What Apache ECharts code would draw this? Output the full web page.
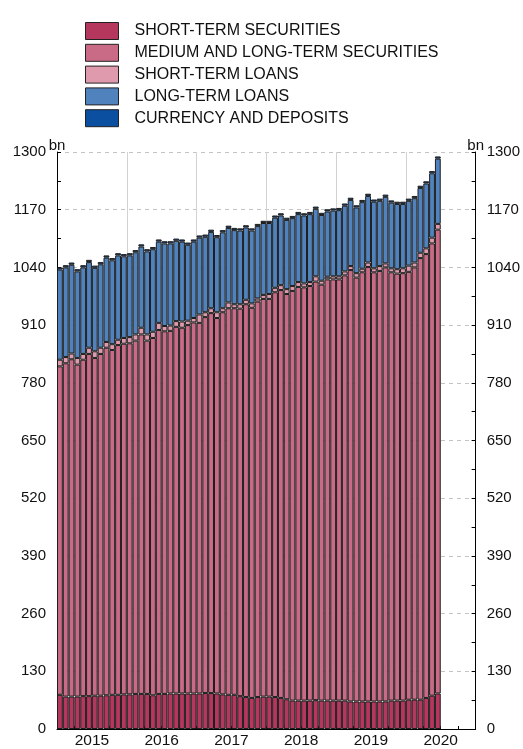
<!DOCTYPE html>
<html>
<head>
<meta charset="utf-8">
<script src="https://cdn.jsdelivr.net/npm/echarts@6/dist/echarts.min.js"></script>
<style>
  html, body { margin: 0; padding: 0; background: #fff; }
  #chart { width: 523px; height: 749px; }
</style>
</head>
<body>
<div id="chart"></div>
<script>
// Calendar: monthly categories from January 2015 to December 2020
const years = ['2015', '2016', '2017', '2018', '2019', '2020'];
const months = [];
years.forEach(function (y) {
  for (let m = 1; m <= 12; m++) months.push(y + '-' + String(m).padStart(2, '0'));
});

// Outstanding amounts, bn (January 2015 - June 2020)
const shortTermSecurities = [
  77, 73, 73, 73, 74, 74, 75, 75, 76, 77, 77, 78,
  78, 79, 79, 79, 76, 79, 79, 80, 80, 80, 80, 80,
  80, 81, 81, 80, 78, 77, 77, 74, 72, 70, 72, 73,
  73, 72, 70, 67, 64, 64, 64, 64, 65, 64, 64, 64,
  64, 64, 62, 62, 62, 62, 62, 62, 62, 64, 64, 64,
  66, 66, 66, 70, 75, 80
];
const mediumLongTermSecurities = [
  740, 751, 760, 748, 758, 771, 761, 770, 783, 777, 788, 790,
  791, 796, 810, 796, 805, 820, 817, 817, 826, 824, 830, 836,
  835, 847, 856, 846, 861, 871, 871, 873, 885, 879, 891, 896,
  896, 912, 919, 913, 923, 932, 931, 934, 943, 937, 949, 949,
  949, 958, 972, 955, 967, 979, 967, 970, 978, 965, 962, 963,
  964, 974, 995, 1000, 1019, 1045
];
const shortTermLoans = [
  15, 14, 13, 15, 13, 14, 15, 14, 13, 13, 12, 13,
  14, 14, 15, 14, 14, 16, 12, 12, 13, 14, 10, 10,
  19, 11, 11, 13, 9, 13, 9, 10, 10, 10, 7, 9,
  11, 10, 11, 11, 11, 11, 9, 9, 12, 9, 6, 7,
  7, 9, 9, 10, 8, 10, 9, 11, 9, 9, 10, 11,
  14, 11, 12, 13, 13, 13
];
const longTermLoans = [
  203, 202, 200, 195, 195, 193, 188, 188, 190, 189, 190, 184,
  184, 185, 183, 187, 186, 183, 186, 185, 181, 180, 171, 172,
  173, 170, 172, 169, 171, 168, 167, 166, 163, 164, 163, 162,
  160, 158, 157, 156, 153, 153, 153, 153, 152, 148, 147, 148,
  149, 148, 149, 148, 150, 150, 150, 147, 150, 148, 147, 145,
  146, 145, 146, 146, 145, 147
];
const currencyDeposits = [
  5, 5, 5, 5, 5, 5, 5, 5, 5, 5, 5, 5,
  5, 5, 5, 5, 5, 5, 5, 5, 5, 5, 5, 5,
  5, 5, 5, 5, 5, 5, 5, 5, 5, 5, 5, 5,
  5, 5, 5, 5, 5, 5, 5, 5, 5, 5, 5, 5,
  5, 5, 5, 5, 5, 5, 5, 5, 5, 5, 5, 5,
  5, 5, 5, 5, 5, 5
];

const seriesNames = [
  'SHORT-TERM SECURITIES',
  'MEDIUM AND LONG-TERM SECURITIES',
  'SHORT-TERM LOANS',
  'LONG-TERM LOANS',
  'CURRENCY AND DEPOSITS'
];
const seriesColors = ['#b5375e', '#c96b86', '#e09aae', '#5083bd', '#0b4fa0'];
const seriesData = [shortTermSecurities, mediumLongTermSecurities, shortTermLoans, longTermLoans, currencyDeposits];

const FONT = '"Liberation Sans", Arial, Helvetica, sans-serif';
const TEXT = '#111';

function valueAxis(pos) {
  return {
    type: 'value',
    position: pos,
    min: 0,
    max: 1300,
    interval: 130,
    name: 'bn',
    nameLocation: 'end',
    nameGap: 6,
    nameMoveOverlap: false,
    nameTextStyle: { fontFamily: FONT, fontSize: 15, color: TEXT, verticalAlign: 'middle' },
    axisLine: { show: true, lineStyle: { color: '#000', width: 1 } },
    axisTick: { show: true, inside: true, length: 4, lineStyle: { color: '#000' } },
    minorTick: { show: true, splitNumber: 2, length: 4, lineStyle: { color: '#000' } },
    axisLabel: {
      fontFamily: FONT, fontSize: 15, color: TEXT, margin: 11,
      formatter: function (v) { return String(v); }
    },
    splitLine: { show: pos === 'left', lineStyle: { color: '#c4c4c4', type: [4, 4], width: 1 } }
  };
}

const chart = echarts.init(document.getElementById('chart'), null, { renderer: 'canvas' });
chart.setOption({
  animation: false,
  backgroundColor: '#fff',
  grid: { left: 57, right: 46, top: 152, bottom: 17, containLabel: false },
  legend: {
    orient: 'vertical',
    left: 85,
    top: 22,
    padding: 0,
    itemWidth: 33,
    itemHeight: 17,
    itemGap: 3.8,
    icon: 'rect',
    itemStyle: { borderColor: '#222', borderWidth: 1 },
    textStyle: { fontFamily: FONT, fontSize: 16, lineHeight: 17, color: TEXT, padding: [0, 0, 0, 11] },
    data: seriesNames
  },
  xAxis: [
    {
      type: 'category',
      data: months,
      boundaryGap: true,
      axisLine: { show: true, lineStyle: { color: '#000', width: 1 } },
      axisTick: { show: true, inside: true, length: 3, interval: function (i) { return i % 3 === 0; }, lineStyle: { color: '#000' } },
      axisLabel: { show: false },
      splitLine: { show: false }
    },
    {
      type: 'category',
      data: years,
      position: 'bottom',
      boundaryGap: true,
      axisLine: { show: false },
      axisTick: { show: false },
      axisLabel: { fontFamily: FONT, fontSize: 15.5, color: TEXT, margin: 4 },
      splitLine: { show: true, interval: 0, lineStyle: { color: '#d2d2d2', width: 1 } }
    }
  ],
  yAxis: [valueAxis('left'), valueAxis('right')],
  series: seriesNames.map(function (name, i) {
    return {
      name: name,
      type: 'bar',
      stack: 'total',
      xAxisIndex: 0,
      yAxisIndex: 0,
      barCategoryGap: '0%',
      data: seriesData[i],
      itemStyle: { color: seriesColors[i], borderColor: '#1e1e1e', borderWidth: 1 }
    };
  })
});
</script>
</body>
</html>
